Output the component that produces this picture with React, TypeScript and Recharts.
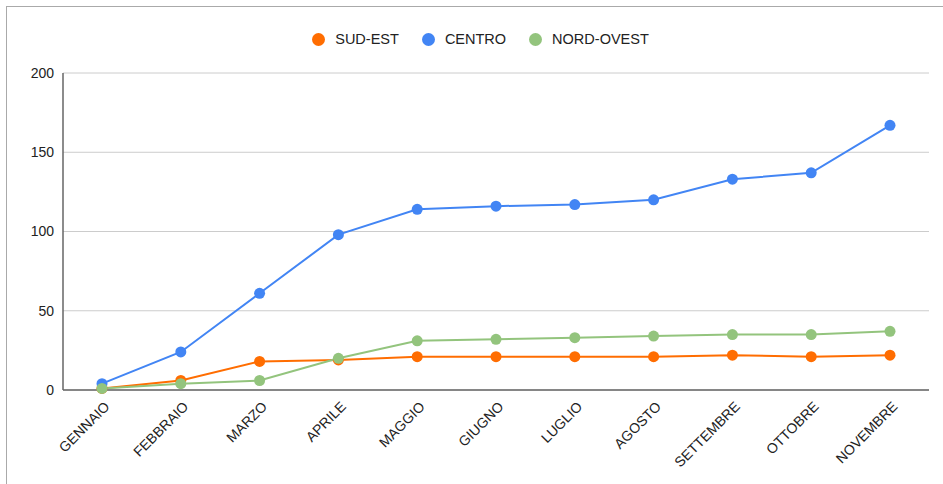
import React from 'react';
import { LineChart, Line, XAxis, YAxis, CartesianGrid, Legend } from 'recharts';

const months = ['GENNAIO', 'FEBBRAIO', 'MARZO', 'APRILE', 'MAGGIO', 'GIUGNO', 'LUGLIO', 'AGOSTO', 'SETTEMBRE', 'OTTOBRE', 'NOVEMBRE'];
const sudEst = [1, 6, 18, 19, 21, 21, 21, 21, 22, 21, 22];
const centro = [4, 24, 61, 98, 114, 116, 117, 120, 133, 137, 167];
const nordOvest = [1, 4, 6, 20, 31, 32, 33, 34, 35, 35, 37];
const yTicks = [0, 50, 100, 150, 200];

const seriesDefs = [
  { key: 'sudEst', name: 'SUD-EST', color: '#ff6d01' },
  { key: 'centro', name: 'CENTRO', color: '#4285f4' },
  { key: 'nordOvest', name: 'NORD-OVEST', color: '#93c47d' },
];

const data = months.map((m, i) => ({
  month: m,
  sudEst: sudEst[i],
  centro: centro[i],
  nordOvest: nordOvest[i],
}));

const FONT = 'Arial, "Liberation Sans", sans-serif';

const XTick = (props: any) => {
  const { x, y, payload } = props;
  return (
    <g transform={`translate(${x},${y})`}>
      <text
        x={0}
        y={0}
        dy="0.35em"
        transform="translate(5,14) rotate(-45)"
        textAnchor="end"
        fontSize={14}
        fontFamily={FONT}
        fill="#222"
      >
        {payload.value}
      </text>
    </g>
  );
};

const LegendContent = () => (
  <div
    style={{
      display: 'flex',
      justifyContent: 'center',
      alignItems: 'center',
      height: 20,
      fontFamily: FONT,
      fontSize: 14.5,
      color: '#222',
    }}
  >
    {seriesDefs.map((s, i) => (
      <div key={s.key} style={{ display: 'flex', alignItems: 'center', marginRight: i < seriesDefs.length - 1 ? 23 : 0 }}>
        <span style={{ width: 13, height: 13, borderRadius: '50%', background: s.color, display: 'inline-block', marginRight: 10 }} />
        <span>{s.name}</span>
      </div>
    ))}
  </div>
);

export default function App() {
  return (
    <div style={{ position: 'fixed', left: 0, top: 0, width: 943, height: 484, overflow: 'hidden', background: '#fff' }}>
      <div style={{ position: 'absolute', left: 6, top: 6, width: 1000, height: 600, border: '1px solid #aaa' }} />
      <div style={{ position: 'absolute', left: 0, top: 0 }}>
        <LineChart width={943} height={484} data={data} margin={{ top: 53, right: 14, left: 0, bottom: 0 }}>
          <CartesianGrid vertical={false} stroke="#cccccc" strokeWidth={1} />
          <XAxis
            dataKey="month"
            interval={0}
            tickLine={false}
            tickSize={0}
            tickMargin={0}
            height={94}
            padding={{ left: 39, right: 39 }}
            axisLine={{ stroke: '#666', strokeWidth: 1.5 }}
            tick={<XTick />}
          />
          <YAxis
            domain={[0, 200]}
            ticks={yTicks}
            width={63}
            tickLine={false}
            tickSize={0}
            tickMargin={9}
            axisLine={{ stroke: '#666', strokeWidth: 1.5 }}
            tick={{ fontSize: 14, fill: '#222', fontFamily: FONT }}
          />
          <Legend
            verticalAlign="top"
            content={<LegendContent />}
            wrapperStyle={{ top: 29, left: 0, width: 961, height: 20 }}
          />
          {seriesDefs.map((s) => (
            <Line
              key={s.key}
              type="linear"
              dataKey={s.key}
              name={s.name}
              stroke={s.color}
              strokeWidth={2}
              dot={{ r: 5.5, fill: s.color, stroke: s.color, strokeWidth: 0 }}
              activeDot={false}
              isAnimationActive={false}
            />
          ))}
        </LineChart>
      </div>
    </div>
  );
}
